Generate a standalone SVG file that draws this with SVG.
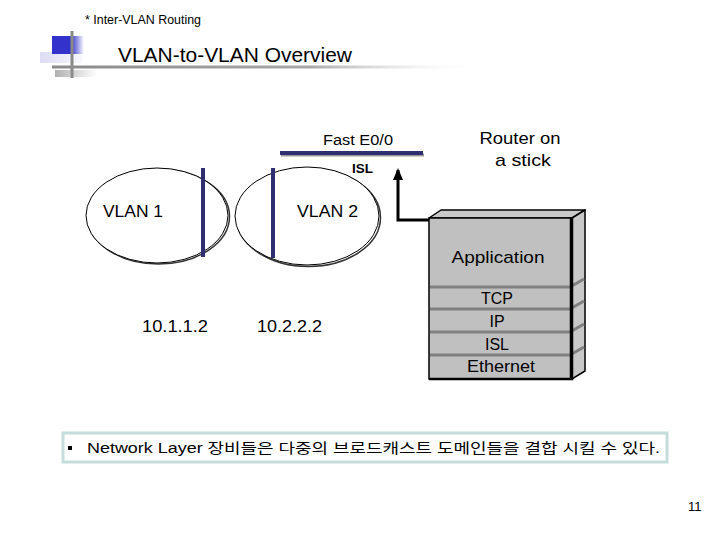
<svg xmlns="http://www.w3.org/2000/svg" width="720" height="540" viewBox="0 0 720 540">
<defs>
<linearGradient id="gBlue" x1="0" y1="0" x2="1" y2="0">
<stop offset="0" stop-color="#3333cc"/><stop offset="0.6" stop-color="#3333cc"/><stop offset="1" stop-color="#3333cc" stop-opacity="0"/>
</linearGradient>
<linearGradient id="gLav" x1="0" y1="0" x2="1" y2="0">
<stop offset="0" stop-color="#dcdcf4"/><stop offset="1" stop-color="#dcdcf4" stop-opacity="0.2"/>
</linearGradient>
<linearGradient id="gGray" x1="0" y1="0" x2="1" y2="0">
<stop offset="0" stop-color="#b0b0b0"/><stop offset="1" stop-color="#b0b0b0" stop-opacity="0"/>
</linearGradient>
<linearGradient id="gLine" x1="0" y1="0" x2="1" y2="0">
<stop offset="0" stop-color="#8a8a8a"/><stop offset="0.6" stop-color="#a8a8a8"/><stop offset="1" stop-color="#ffffff" stop-opacity="0"/>
</linearGradient>
<marker id="arr" markerWidth="12" markerHeight="10" refX="10" refY="5" orient="auto" markerUnits="userSpaceOnUse" viewBox="0 0 12 10">
<path d="M0,0 L12,5 L0,10 Z" fill="#000"/>
</marker>
</defs>
<style>
.t{font-family:"Liberation Sans",Arial,"Noto Sans CJK KR",sans-serif;fill:#000}
.ell{fill:#fff;stroke:#000;stroke-width:1}
.shadow{fill:none;stroke:#333;stroke-width:1.5}
.bar{stroke:#2e2e70;stroke-width:4}
.layer{stroke:#808080;stroke-width:3;fill:none}
</style>
<rect width="720" height="540" fill="#fff"/>

<g id="header">
<text class="t" x="85" y="24" font-size="12" textLength="116" lengthAdjust="spacingAndGlyphs">* Inter-VLAN Routing</text>
<rect x="40" y="52" width="42" height="11" fill="url(#gLav)"/>
<rect x="52" y="36" width="32" height="18" fill="url(#gBlue)"/>
<rect x="55" y="70" width="42" height="7" fill="url(#gGray)"/>
<rect x="70.5" y="31" width="3" height="47" fill="#8a8a8a"/>
<rect x="52" y="65.5" width="430" height="3" fill="url(#gLine)"/>
<text class="t" x="118" y="62" font-size="20" textLength="234" lengthAdjust="spacingAndGlyphs">VLAN-to-VLAN Overview</text>
</g>

<g id="vlan1">
<ellipse class="shadow" cx="158.5" cy="216.5" rx="71" ry="47.5"/>
<ellipse class="ell" cx="157" cy="215.5" rx="71" ry="47.5"/>
<line class="bar" x1="203" y1="168" x2="203" y2="257"/>
<text class="t" x="103" y="217" font-size="17" textLength="60" lengthAdjust="spacingAndGlyphs">VLAN 1</text>
</g>

<g id="vlan2">
<ellipse class="shadow" cx="308.5" cy="217.5" rx="72" ry="49"/>
<ellipse class="ell" cx="307" cy="216" rx="72" ry="49"/>
<line class="bar" x1="273" y1="168" x2="273" y2="258"/>
<text class="t" x="297" y="217" font-size="17" textLength="61" lengthAdjust="spacingAndGlyphs">VLAN 2</text>
</g>

<g id="trunk">
<line x1="281" y1="155" x2="424" y2="155" stroke="#999" stroke-width="3"/>
<line x1="280" y1="153" x2="423" y2="153" stroke="#2e2e70" stroke-width="4"/>
<text class="t" x="323" y="145" font-size="14" textLength="70" lengthAdjust="spacingAndGlyphs">Fast E0/0</text>
<text class="t" x="352" y="173" font-size="13" font-weight="bold" textLength="21" lengthAdjust="spacingAndGlyphs">ISL</text>
</g>

<g id="router-label">
<text class="t" x="520" y="144" font-size="17" text-anchor="middle" textLength="81" lengthAdjust="spacingAndGlyphs">Router on</text>
<text class="t" x="523" y="166" font-size="17" text-anchor="middle" textLength="56" lengthAdjust="spacingAndGlyphs">a stick</text>
</g>

<g id="connectors">
<polyline points="430,220 398,220 398,170" fill="none" stroke="#000" stroke-width="3" marker-end="url(#arr)"/>
</g>

<g id="router-stack">
<polygon points="429,218 441,210 585,210 572,218" fill="#c8c8c8" stroke="#000" stroke-width="1.5" stroke-linejoin="round"/>
<polygon points="572,218 585,210 585,371 572,379" fill="#c8c8c8" stroke="#000" stroke-width="1.5"/>
<rect x="429" y="218" width="143" height="161" fill="#c0c0c0" stroke="#000" stroke-width="1.5"/>
<polyline class="layer" points="430,287 570,287 584,279"/>
<polyline class="layer" points="430,309 570,309 584,301"/>
<polyline class="layer" points="430,332 570,332 584,324"/>
<polyline class="layer" points="430,355 570,355 584,347"/>
<line x1="571.5" y1="218" x2="571.5" y2="380" stroke="#000" stroke-width="3.5"/>
<line x1="429" y1="379" x2="573" y2="379" stroke="#000" stroke-width="2.5"/>
<text class="t" x="498" y="263" font-size="17" text-anchor="middle" textLength="93" lengthAdjust="spacingAndGlyphs">Application</text>
<text class="t" x="497" y="304" font-size="16" text-anchor="middle">TCP</text>
<text class="t" x="497" y="327" font-size="16" text-anchor="middle">IP</text>
<text class="t" x="497" y="350" font-size="16" text-anchor="middle">ISL</text>
<text class="t" x="501" y="372" font-size="16" text-anchor="middle" textLength="68" lengthAdjust="spacingAndGlyphs">Ethernet</text>
</g>

<g id="addresses">
<text class="t" x="142" y="332" font-size="17" textLength="66" lengthAdjust="spacingAndGlyphs">10.1.1.2</text>
<text class="t" x="257" y="332" font-size="17" textLength="65" lengthAdjust="spacingAndGlyphs">10.2.2.2</text>
</g>

<g id="note">
<rect x="63" y="433" width="604" height="29" fill="#fff" stroke="#c4dcdc" stroke-width="3"/>
<rect x="68" y="446" width="4" height="4" fill="#000"/>
<text class="t" x="87" y="453" font-size="14" textLength="573" lengthAdjust="spacingAndGlyphs">Network Layer 장비들은 다중의 브로드캐스트 도메인들을 결합 시킬 수 있다.</text>
</g>

<text class="t" x="688" y="511" font-size="13">11</text>
</svg>
